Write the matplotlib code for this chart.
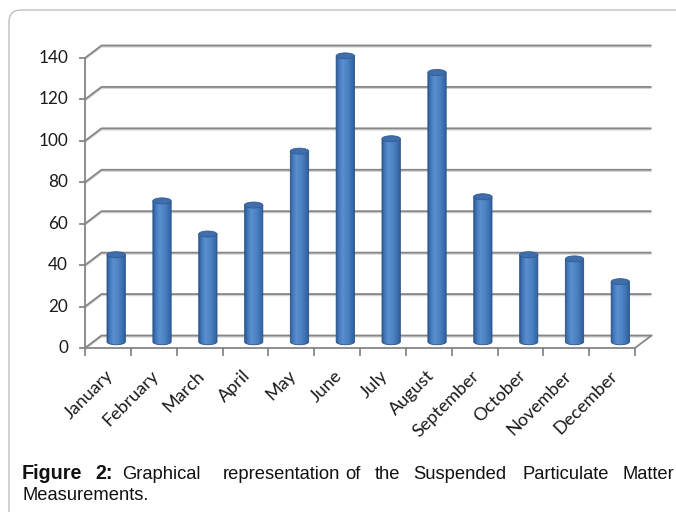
import numpy as np
import matplotlib
matplotlib.use('Agg')
import matplotlib.pyplot as plt
from matplotlib.patches import Polygon, Ellipse, FancyBboxPatch
from matplotlib.colors import LinearSegmentedColormap
from matplotlib.transforms import ScaledTranslation

# ---------------- data ----------------
months = ['January', 'February', 'March', 'April', 'May', 'June', 'July',
          'August', 'September', 'October', 'November', 'December']
values = [42, 68, 52, 66, 92, 138, 98, 130, 70, 42, 40, 29]
yticks = [0, 20, 40, 60, 80, 100, 120, 140]
caption_line1 = [('Figure', True), ('2:', True), ('Graphical', False),
                 ('representation', False), ('of', False), ('the', False),
                 ('Suspended', False), ('Particulate', False), ('Matter', False)]
caption_x1 = [22, 95, 122, 223, 345, 375, 413, 522, 623]
caption_line2 = 'Measurements.'

# ---------------- geometry (pixels) ----------------
W, H = 676, 512
fig = plt.figure(figsize=(W / 100, H / 100), dpi=100)
fig.patch.set_facecolor('white')

X0, X1 = 85, 635      # front x-pixels of category 0 and 12
Y0, Y1 = 348, 58      # pixel rows of value 0 and 140 (front plane)
px_x = (X1 - X0) / 12.0
px_y = (Y0 - Y1) / 140.0
xl, xr = -1.6, 13.2
yb, yt = -16, 152
left_px = X0 + xl * px_x
right_px = X0 + xr * px_x
bot_px = Y0 - yb * px_y
top_px = Y0 - yt * px_y
ax = fig.add_axes([left_px / W, 1 - bot_px / H, (right_px - left_px) / W, (bot_px - top_px) / H])
ax.set_xlim(xl, xr)
ax.set_ylim(yb, yt)
ax.axis('off')

DX = 16.5 / px_x   # depth offset in data units
DY = 12.5 / px_y

grid_c = '#868686'
shadow_c = '#d4d4d4'
glw = 1.3

# gridlines: left wall diagonal + back wall
for y in yticks:
    ax.plot([0, DX, 12 + DX], [y - 1.3 / px_y, y + DY - 1.3 / px_y, y + DY - 1.3 / px_y],
            color=shadow_c, lw=1.2, zorder=1, solid_capstyle='butt')
    ax.plot([0, DX, 12 + DX], [y, y + DY, y + DY], color=grid_c, lw=glw, zorder=2,
            solid_capstyle='butt')
# floor front edge and right edge
ax.plot([0, 12, 12 + DX], [0, 0, DY], color=grid_c, lw=glw, zorder=2)
# front vertical axis
ax.plot([0, 0], [0, 140], color=grid_c, lw=glw, zorder=2)
# y ticks and labels
for y in yticks:
    ax.plot([-5 / px_x, 0], [y, y], color=grid_c, lw=glw, zorder=2)
    ax.text(-17 / px_x, y, str(y), ha='right', va='center', fontsize=12.3,
            family='Lato', color='#1a1a1a')
# x ticks at category boundaries
for b in range(13):
    ax.plot([b, b], [0, -7 / px_y], color=grid_c, lw=glw, zorder=2)
# month labels
lab_tr = ax.transData + ScaledTranslation(2.5 / 100, -25 / 100, fig.dpi_scale_trans)
for i, m in enumerate(months):
    ax.text(i + 0.5, 0, m, rotation=45, ha='right', va='center', rotation_mode='anchor',
            fontsize=13, family='Lato', color='#1a1a1a', transform=lab_tr)

# ---------------- cylinders ----------------
cmap = LinearSegmentedColormap.from_list(
    'cyl', [(0.0, '#2c5894'), (0.15, '#4479bb'), (0.35, '#5b8fd0'),
            (0.65, '#4a7fc0'), (0.9, '#3566a5'), (1.0, '#2b548c')])
grad = np.linspace(0, 1, 256)[None, :]
hw = 0.2
eh = 3.0 / px_y
for i, v in enumerate(values):
    xc = i + 0.5 + DX / 2
    base = DY / 2
    top = v + DY / 2
    ang = np.linspace(np.pi, 2 * np.pi, 40)
    verts = [(xc - hw, top)] + [(xc + hw * np.cos(a), base + eh * np.sin(a)) for a in ang] + [(xc + hw, top)]
    poly = Polygon(verts, closed=True, facecolor='none', edgecolor='#2a5288', lw=0.6, zorder=4)
    ax.add_patch(poly)
    im = ax.imshow(grad, extent=[xc - hw, xc + hw, base - eh, top], cmap=cmap,
                   aspect='auto', zorder=3, interpolation='bilinear')
    im.set_clip_path(poly)
    ax.add_patch(Ellipse((xc, top), 2 * hw, 2 * eh, facecolor='#3f6eaa',
                         edgecolor='#305c96', lw=0.6, zorder=5))

ax.set_xlim(xl, xr)
ax.set_ylim(yb, yt)

# ---------------- frame ----------------
frame = FancyBboxPatch((0.09, -1.0), 7.5, 1.0 + 5.02, boxstyle='round,pad=0,rounding_size=0.12',
                       transform=fig.dpi_scale_trans, facecolor='none', edgecolor='#c0c0c0',
                       lw=1.0, zorder=0)
fig.patches.append(frame)

# ---------------- caption ----------------
for (word, bold), x in zip(caption_line1, caption_x1):
    fig.text(x / W, 1 - 479 / H, word, ha='left', va='baseline',
             fontsize=14.2 if bold else 13.2,
             family='Liberation Sans', fontweight='bold' if bold else 'normal', color='#111111')
fig.text(22 / W, 1 - 500 / H, caption_line2, ha='left', va='baseline', fontsize=13.2,
         family='Liberation Sans', color='#111111')

fig.savefig('out.png', dpi=100)
